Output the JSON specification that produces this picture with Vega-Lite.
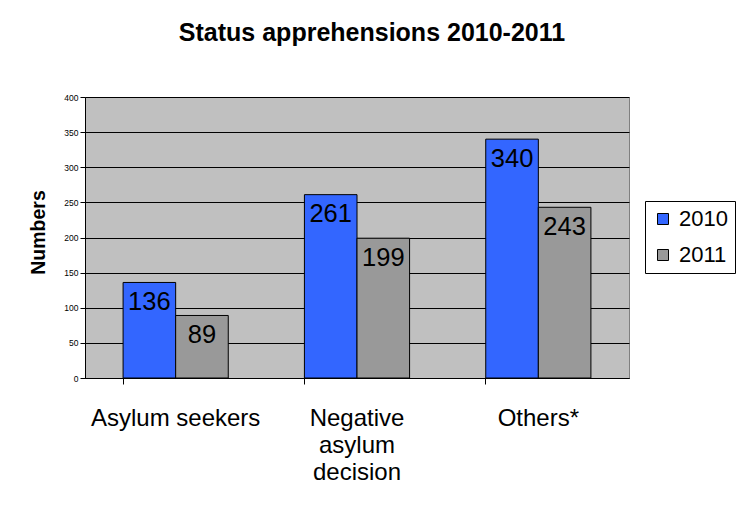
{
  "$schema": "https://vega.github.io/schema/vega-lite/v6.json",
  "width": 544,
  "height": 281,
  "autosize": {"type": "none"},
  "padding": {"left": 85, "top": 97, "right": 112, "bottom": 135},
  "background": "white",
  "title": {
    "text": "Status apprehensions 2010-2011",
    "font": "Liberation Sans",
    "fontSize": 25,
    "fontWeight": "bold",
    "color": "black",
    "anchor": "middle",
    "dx": 15,
    "offset": 47
  },
  "data": {
    "values": [
      {"category": "Asylum seekers", "year": "2010", "value": 136},
      {"category": "Asylum seekers", "year": "2011", "value": 89},
      {"category": "Negative asylum decision", "year": "2010", "value": 261},
      {"category": "Negative asylum decision", "year": "2011", "value": 199},
      {"category": "Others*", "year": "2010", "value": 340},
      {"category": "Others*", "year": "2011", "value": 243}
    ]
  },
  "encoding": {
    "x": {
      "field": "category",
      "type": "nominal",
      "sort": null,
      "scale": {"paddingInner": 0.42, "paddingOuter": 0.21},
      "axis": {
        "title": null,
        "labelAngle": 0,
        "labelFont": "Liberation Sans",
        "labelFontSize": 24,
        "labelColor": "black",
        "labelPadding": 22,
        "labelLineHeight": 27,
        "labelExpr": "datum.value == 'Negative asylum decision' ? ['Negative', 'asylum', 'decision'] : datum.value",
        "bandPosition": 0,
        "tickSize": 6,
        "tickColor": "black",
        "domainColor": "black",
        "grid": false
      }
    },
    "xOffset": {"field": "year", "type": "nominal"},
    "y": {
      "field": "value",
      "type": "quantitative",
      "scale": {"domain": [0, 400], "nice": false},
      "axis": {
        "title": "Numbers",
        "titleFont": "Liberation Sans",
        "titleFontSize": 19.5,
        "titleFontWeight": "bold",
        "titleColor": "black",
        "titlePadding": 15,
        "titleY": 135,
        "values": [0, 50, 100, 150, 200, 250, 300, 350, 400],
        "labelFont": "Liberation Sans",
        "labelFontSize": 8.5,
        "labelColor": "black",
        "tickSize": 5,
        "tickColor": "black",
        "domainColor": "black",
        "gridColor": "black",
        "gridOpacity": 1,
        "gridWidth": 1
      }
    }
  },
  "layer": [
    {
      "mark": {"type": "bar", "stroke": "black", "strokeWidth": 1},
      "encoding": {
        "color": {
          "field": "year",
          "type": "nominal",
          "scale": {"domain": ["2010", "2011"], "range": ["#3366FF", "#999999"]},
          "legend": {
            "title": null,
            "orient": "none",
            "legendX": 560,
            "legendY": 104,
            "symbolType": "square",
            "symbolSize": 121,
            "symbolStrokeColor": "black",
            "symbolStrokeWidth": 1,
            "symbolOpacity": 1,
            "labelFont": "Liberation Sans",
            "labelFontSize": 22,
            "labelColor": "black",
            "labelOffset": 5,
            "rowPadding": 14,
            "strokeColor": "black",
            "padding": 7,
            "fillColor": "white"
          }
        }
      }
    },
    {
      "mark": {
        "type": "text",
        "baseline": "top",
        "align": "center",
        "dy": 7.5,
        "font": "Liberation Sans",
        "fontSize": 25.5,
        "color": "black"
      },
      "encoding": {"text": {"field": "value", "type": "quantitative"}}
    }
  ],
  "config": {
    "view": {"fill": "#C0C0C0", "stroke": "#808080", "strokeWidth": 1}
  }
}
